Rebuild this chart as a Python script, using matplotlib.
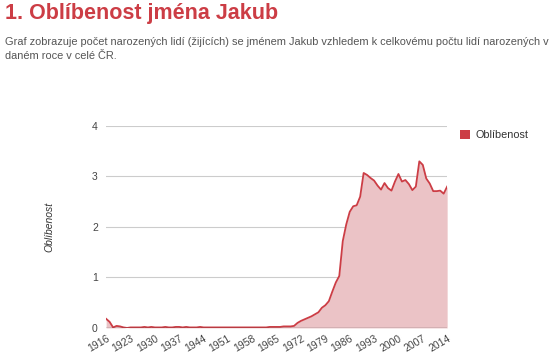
import numpy as np
import matplotlib.pyplot as plt

plt.rcParams['font.family'] = ['Liberation Sans', 'DejaVu Sans']

# Oblibenost jmena Jakub, 1916 - 2014
years = list(range(1916, 2015))
values = [
    0.18, 0.12, 0.01, 0.04, 0.03, 0.01, 0.00, 0.01, 0.01, 0.01,   # 1916-1925
    0.01, 0.02, 0.01, 0.02, 0.01, 0.01, 0.01, 0.02, 0.01, 0.01,   # 1926-1935
    0.02, 0.02, 0.01, 0.02, 0.01, 0.01, 0.01, 0.02, 0.01, 0.01,   # 1936-1945
    0.01, 0.01, 0.01, 0.01, 0.01, 0.01, 0.01, 0.01, 0.01, 0.01,   # 1946-1955
    0.01, 0.01, 0.01, 0.01, 0.01, 0.01, 0.01, 0.02, 0.02, 0.02,   # 1956-1965
    0.02, 0.03, 0.03, 0.03, 0.04, 0.10, 0.14, 0.17, 0.20, 0.23,   # 1966-1975
    0.27, 0.31, 0.40, 0.45, 0.53, 0.72, 0.90, 1.03, 1.72, 2.05,   # 1976-1985
    2.30, 2.41, 2.43, 2.60, 3.07, 3.03, 2.97, 2.92, 2.82, 2.74,   # 1986-1995
    2.87, 2.77, 2.72, 2.90, 3.05, 2.90, 2.93, 2.85, 2.73, 2.80,   # 1996-2005
    3.30, 3.23, 2.96, 2.86, 2.71, 2.71, 2.72, 2.66, 2.80,         # 2006-2014
]
tick_years = list(range(1916, 2015, 7))
series_name = 'Oblíbenost'

title = '1. Oblíbenost jména Jakub'
subtitle = ('Graf zobrazuje počet narozených lidí (žijících) se jménem Jakub vzhledem k celkovému počtu lidí narozených v\n'
            'daném roce v celé ČR.')

red = '#cc3d45'
fig = plt.figure(figsize=(5.5, 3.58), dpi=100)
fig.text(0.009, 0.962, title, color=red, fontsize=15.5, fontweight='bold', va='center')
fig.text(0.009, 0.897, subtitle, color='#555555', fontsize=7.9, va='top', linespacing=1.5)

ax = fig.add_axes([0.193, 0.084, 0.62, 0.564])
ax.fill_between(years, values, 0, color='#ebc3c6', lw=0, label=series_name)
ax.plot(years, values, color=red, lw=1.3)
ax.set_xlim(1916, 2014)
ax.set_ylim(0, 4)
ax.set_yticks([0, 1, 2, 3, 4])
ax.set_xticks(tick_years)
ax.set_xticklabels([str(y) for y in tick_years], rotation=30, ha='right', rotation_mode='anchor')
ax.tick_params(length=0, labelsize=7.5, colors='#444444', pad=6)
ax.tick_params(axis='x', pad=4)
ax.grid(axis='y', color='#cccccc', lw=0.8)
ax.set_axisbelow(True)
for s in ax.spines.values():
    s.set_visible(False)
ax.axhline(0, color='#333333', lw=0.9)
ax.set_ylabel('Oblíbenost', style='italic', fontsize=7.5, color='#333333', labelpad=27)

leg = ax.legend(loc='upper left', bbox_to_anchor=(1.01, 1.03), frameon=False,
                fontsize=7.8, handlelength=0.9, handleheight=0.9, handletextpad=0.5)
leg.legend_handles[0].set_color(red)
for t in leg.get_texts():
    t.set_color('#333333')

fig.savefig('out.png', dpi=100)
